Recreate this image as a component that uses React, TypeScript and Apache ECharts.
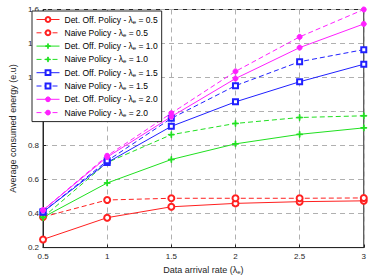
import React, { useEffect, useRef } from "react";
import * as echarts from "echarts";

const xValues = [0.5, 1, 1.5, 2, 2.5, 3];
const detL05 = [0.248, 0.376, 0.44, 0.46, 0.47, 0.475];
const naiveL05 = [0.38, 0.48, 0.49, 0.49, 0.49, 0.492];
const detL10 = [0.378, 0.58, 0.718, 0.81, 0.866, 0.904];
const naiveL10 = [0.378, 0.70, 0.864, 0.93, 0.965, 0.975];
const detL15 = [0.41, 0.70, 0.913, 1.057, 1.175, 1.278];
const naiveL15 = [0.41, 0.71, 0.96, 1.152, 1.293, 1.364];
const detL20 = [0.42, 0.732, 0.97, 1.194, 1.376, 1.515];
const naiveL20 = [0.42, 0.74, 0.99, 1.236, 1.439, 1.6];

const lambdas = ["0.5", "1.0", "1.5", "2.0"];
const colors = ["#ff2020", "#20e020", "#2020ff", "#ff20ff"];
const symbols = [
  "emptyCircle",
  "path://M4.4,0H5.6V4.4H10V5.6H5.6V10H4.4V5.6H0V4.4H4.4Z",
  "emptyRect",
  "circle",
];
const symbolSizes = [6, 6, 5, 5];
const detData = [detL05, detL10, detL15, detL20];
const naiveData = [naiveL05, naiveL10, naiveL15, naiveL20];

export default function App() {
  const ref = useRef<HTMLDivElement>(null);
  useEffect(() => {
    if (!ref.current) return;
    const chart = echarts.init(ref.current, undefined, { renderer: "svg" });
    const series: any[] = [];
    lambdas.forEach((l, i) => {
      ["Det. Off. Policy", "Naive Policy"].forEach((p, j) => {
        const data = (j === 0 ? detData[i] : naiveData[i]).map((v, k) => [xValues[k], v]);
        series.push({
          name: `${p} - λe = ${l}`,
          type: "line",
          data,
          symbol: symbols[i],
          symbolSize: symbolSizes[i],
          showSymbol: true,
          lineStyle: { color: colors[i], width: 1, type: j === 0 ? "solid" : [5, 3] },
          itemStyle: { color: colors[i], borderColor: colors[i], borderWidth: 1 },
          emphasis: { disabled: true },
          z: 3,
        });
      });
    });
    const font = "Liberation Sans, Arial, sans-serif";
    chart.setOption({
      animation: false,
      textStyle: { fontFamily: font },
      grid: { left: 27, right: 4, top: 9.5, bottom: 26.5, show: true, borderColor: "#262626", borderWidth: 1, backgroundColor: "#fff" },
      legend: {
        orient: "vertical",
        left: 32,
        top: 11,
        backgroundColor: "#fff",
        borderColor: "#262626",
        borderWidth: 1,
        borderRadius: 0,
        padding: [4, 4, 4, 4],
        itemGap: 3.8,
        itemWidth: 23,
        itemHeight: 6,
        lineStyle: { width: 1 },
        itemStyle: { borderWidth: 1 },
        textStyle: {
          fontSize: 8.5,
          color: "#000",
          fontFamily: font,
          rich: {
            t: { fontSize: 8.5, color: "#000", fontFamily: font },
            sub: { fontSize: 6, color: "#000", fontFamily: font, verticalAlign: "bottom", padding: [4, 0, 0, 0] },
          },
        },
        formatter: (name: string) => {
          const parts = name.split("λe");
          return `{t|${parts[0]}λ}{sub|e}{t|${parts[1]}}`;
        },
      },
      xAxis: {
        type: "value",
        min: 0.5,
        max: 3,
        interval: 0.5,
        name: "Data arrival rate (λ{sub|e})",
        nameLocation: "middle",
        nameGap: 15,
        nameTextStyle: {
          fontSize: 9,
          color: "#262626",
          rich: { sub: { fontSize: 6, color: "#262626", verticalAlign: "bottom", padding: [4, 0, 0, 0] } },
        },
        axisLine: { show: true, lineStyle: { color: "#262626", width: 1 } },
        axisTick: { show: true, inside: true, length: 3, lineStyle: { color: "#262626" } },
        axisLabel: { fontSize: 8, color: "#262626", margin: 5 },
        splitLine: { show: true, lineStyle: { color: "#b0b0b0", type: [5, 4], width: 1 } },
      },
      yAxis: {
        type: "value",
        min: 0.2,
        max: 1.6,
        interval: 0.2,
        name: "Average consumed energy (e.u)",
        nameLocation: "middle",
        nameGap: 19,
        nameTextStyle: { fontSize: 9, color: "#262626" },
        axisLine: { show: true, lineStyle: { color: "#262626", width: 1 } },
        axisTick: { show: true, inside: true, length: 3, lineStyle: { color: "#262626" } },
        axisLabel: {
          fontSize: 8,
          color: "#262626",
          margin: 4,
          formatter: (v: number) => String(Math.round(v * 10) / 10),
        },
        splitLine: { show: true, lineStyle: { color: "#b0b0b0", type: [5, 4], width: 1 } },
      },
      series,
    });
    return () => chart.dispose();
  }, []);
  return <div ref={ref} style={{ width: 369, height: 280, position: "absolute", left: 0, top: 0, background: "#fff" }} />;
}
